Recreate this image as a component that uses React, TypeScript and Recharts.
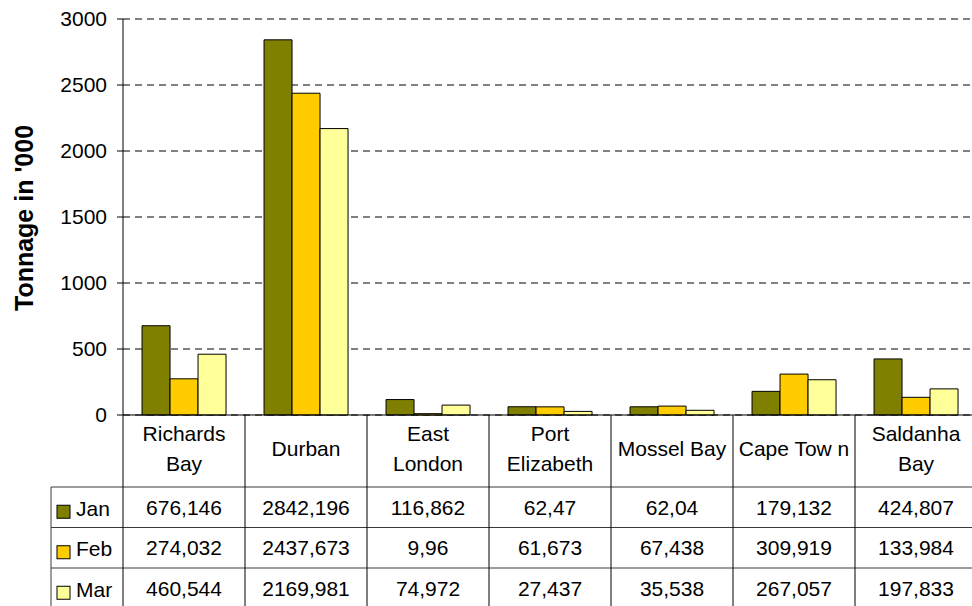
import { Bar, BarChart, CartesianGrid, Customized, XAxis, YAxis } from "recharts";

const ports = [
  "Richards\nBay",
  "Durban",
  "East\nLondon",
  "Port\nElizabeth",
  "Mossel Bay",
  "Cape Tow n",
  "Saldanha\nBay",
];
const jan = [676.146, 2842.196, 116.862, 62.47, 62.04, 179.132, 424.807];
const feb = [274.032, 2437.673, 9.96, 61.673, 67.438, 309.919, 133.984];
const mar = [460.544, 2169.981, 74.972, 27.437, 35.538, 267.057, 197.833];
const yTicks = [0, 500, 1000, 1500, 2000, 2500, 3000];

const series = [
  { key: "jan", name: "Jan", color: "#808000", values: jan },
  { key: "feb", name: "Feb", color: "#FFCC00", values: feb },
  { key: "mar", name: "Mar", color: "#FFFF99", values: mar },
];

const data = ports.map((p, i) => ({ port: p, jan: jan[i], feb: feb[i], mar: mar[i] }));

const W = 977;
const H = 620;
const AXIS_H = 205;
const LEFT = 123;
const BAND = (W - LEFT) / ports.length;
const BOTTOM = H - AXIS_H; // plot bottom
const HEADER_BOTTOM = 487;
const ROW_H = 40.5;
const TABLE_LEFT = 51;
const FONT = "'Liberation Sans', Arial, sans-serif";
const LINE = "#3a3a3a";

const fmt = (v: number) => String(v).replace(".", ",");

function TableColumn(props: any) {
  const { x, index, payload } = props;
  const lines: string[] = String(payload.value).split("\n");
  const headerMid = 448;
  const last = index === ports.length - 1;
  return (
    <g fontFamily={FONT} fontSize={21} fill="#000">
      {index === 0 && (
        <g>
          {[0, 1, 2, 3].map((r) => (
            <line
              key={r}
              x1={TABLE_LEFT}
              x2={W}
              y1={HEADER_BOTTOM + r * ROW_H}
              y2={HEADER_BOTTOM + r * ROW_H}
              stroke={LINE}
            />
          ))}
          <line x1={TABLE_LEFT} x2={TABLE_LEFT} y1={HEADER_BOTTOM} y2={H} stroke={LINE} />
          {series.map((s, r) => {
            const cy = HEADER_BOTTOM + r * ROW_H + ROW_H / 2;
            return (
              <g key={s.key}>
                <rect x={57} y={cy - 2} width={13} height={13} fill={s.color} stroke="#000" />
                <text x={76} y={cy + 1} dominantBaseline="central" textAnchor="start">
                  {s.name}
                </text>
              </g>
            );
          })}
        </g>
      )}
      <line x1={x - BAND / 2} x2={x - BAND / 2} y1={BOTTOM} y2={H} stroke="#000" />
      {last && <line x1={x + BAND / 2} x2={x + BAND / 2} y1={BOTTOM} y2={H} stroke="#000" />}
      {lines.map((l, k) => (
        <text
          key={k}
          x={x}
          y={headerMid + (k - (lines.length - 1) / 2) * 30}
          textAnchor="middle"
          dominantBaseline="central"
        >
          {l}
        </text>
      ))}
      {series.map((s, r) => (
        <text
          key={s.key}
          x={x}
          y={HEADER_BOTTOM + r * ROW_H + ROW_H / 2}
          textAnchor="middle"
          dominantBaseline="central"
        >
          {fmt(s.values[index])}
        </text>
      ))}
    </g>
  );
}

function YLabel() {
  return (
    <text
      x={24}
      y={218}
      transform="rotate(-90 24 218)"
      textAnchor="middle"
      dominantBaseline="central"
      fontFamily={FONT}
      fontSize={25}
      fontWeight="bold"
      fill="#000"
    >
      Tonnage in '000
    </text>
  );
}

export default function App() {
  return (
    <div
      style={{
        position: "absolute",
        left: 0,
        top: 0,
        width: 972,
        height: 606,
        overflow: "hidden",
        background: "#fff",
      }}
    >
      <BarChart
        width={W}
        height={H}
        data={data}
        margin={{ top: 19, right: 0, bottom: 0, left: 0 }}
        barCategoryGap="15.6%"
        barGap={0}
      >
        <CartesianGrid vertical={false} stroke="#000" strokeDasharray="7 5" />
        <XAxis
          dataKey="port"
          height={AXIS_H}
          axisLine={{ stroke: "#000" }}
          tickLine={false}
          interval={0}
          tick={<TableColumn />}
        />
        <YAxis
          width={LEFT}
          domain={[0, 3000]}
          ticks={yTicks}
          interval={0}
          axisLine={{ stroke: "#000" }}
          tickLine={{ stroke: "#000" }}
          tickSize={6}
          tickMargin={10}
          tick={{ fill: "#000", fontSize: 21, fontFamily: FONT }}
        />
        {series.map((s) => (
          <Bar
            key={s.key}
            dataKey={s.key}
            name={s.name}
            fill={s.color}
            stroke="#000"
            strokeWidth={1}
            isAnimationActive={false}
          />
        ))}
        <Customized component={YLabel} />
      </BarChart>
    </div>
  );
}
